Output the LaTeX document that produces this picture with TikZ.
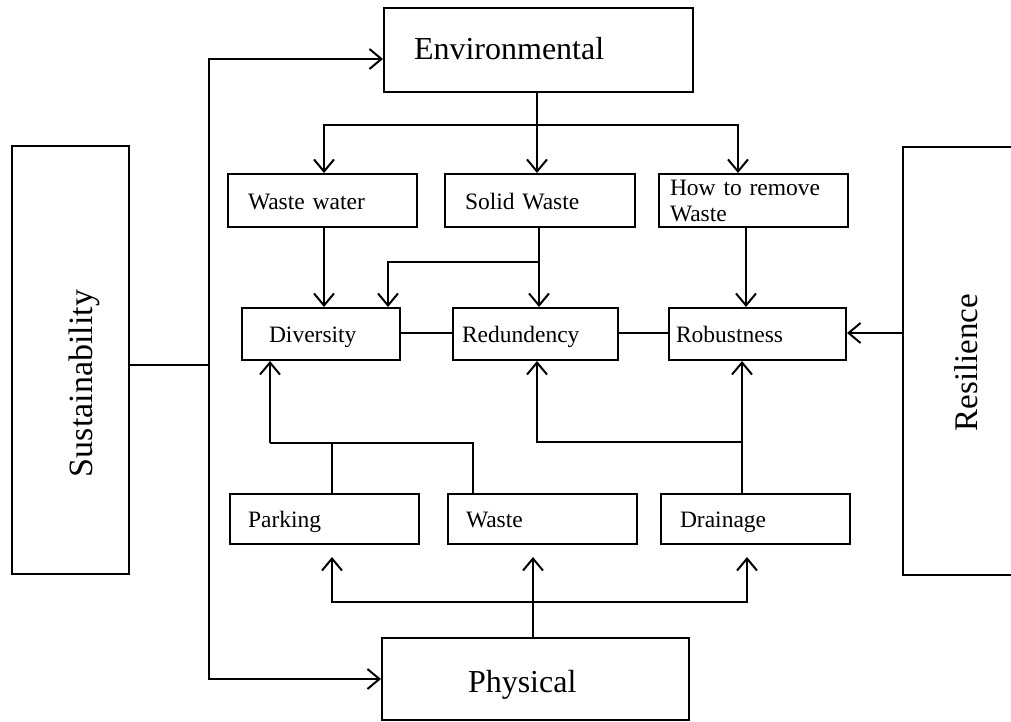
\documentclass[tikz,border=0pt]{standalone}
\usepackage{fontspec}
\setmainfont{Liberation Serif}
\usetikzlibrary{arrows.meta}
\tikzset{
  bx/.style={draw, line width=2pt, inner ysep=0pt, align=left, anchor=north west},
  sm/.style={font=\fontsize{23.5}{26}\selectfont},
  smh/.style={sm, text height=22pt, text depth=5pt},
  lg/.style={font=\fontsize{32}{38}\selectfont},
  ln/.style={line width=2pt},
  tip/.style={ln, -{Straight Barb[length=12pt,width=20pt,line width=2pt]}},
}
\begin{document}
\begin{tikzpicture}[x=1pt,y=-1pt]
\useasboundingbox (0,0) rectangle (1011,721);
% boxes
\node[bx,lg,text height=24pt,text depth=6pt,minimum width=309pt,minimum height=84pt,text width=249pt,inner xsep=30pt] (env) at (383,7) {Environmental};
\node[bx,smh,minimum width=189pt,minimum height=53pt,text width=149pt,inner xsep=20pt] (ww) at (227,173) {Waste water};
\node[bx,smh,minimum width=190pt,minimum height=53pt,text width=150pt,inner xsep=20pt] (sw) at (444,173) {Solid Waste};
\node[bx,sm,minimum width=189pt,minimum height=53pt,text width=167pt,inner xsep=11pt] (hr) at (658,173) {How to remove\\Waste};
\node[bx,smh,minimum width=158pt,minimum height=52pt,text width=104pt,inner xsep=27pt] (div) at (241,307) {Diversity};
\node[bx,smh,minimum width=165pt,minimum height=52pt,text width=147pt,inner xsep=9pt] (red) at (452,307) {Redundency};
\node[bx,smh,minimum width=177pt,minimum height=52pt,text width=163pt,inner xsep=7pt] (rob) at (668,307) {Robustness};
\node[bx,smh,minimum width=189pt,minimum height=50pt,text width=153pt,inner xsep=18pt] (park) at (229,493) {Parking};
\node[bx,smh,minimum width=189pt,minimum height=50pt,text width=153pt,inner xsep=18pt] (wst) at (447,493) {Waste};
\node[bx,smh,minimum width=189pt,minimum height=50pt,text width=151pt,inner xsep=19pt] (drn) at (660,493) {Drainage};
\node[bx,lg,text height=30pt,text depth=4pt,minimum width=307pt,minimum height=82pt,text width=135pt,inner xsep=86pt] (phy) at (381,637) {Physical};
\node[bx,minimum width=117pt,minimum height=428pt,inner sep=0pt] (sust) at (11,145) {};
\node[bx,minimum width=150pt,minimum height=428pt,inner sep=0pt] (res) at (902,146) {};
\node[rotate=90,anchor=base,font=\fontsize{34}{40}\selectfont,inner sep=0pt] (sustlabel) at (92,383.5) {Sustainability};
\node[rotate=90,anchor=base,font=\fontsize{33}{40}\selectfont,inner sep=0pt] (reslabel) at (977,362.5) {Resilience};
% coordinates
\coordinate (sj) at (209,365);
\coordinate (vt) at (209,59);
\coordinate (vb) at (209,679);
\coordinate (ej) at (537,125);
\coordinate (ejl) at (324,125);
\coordinate (ejr) at (738,125);
\coordinate (sj2) at (539,262);
\coordinate (sj3) at (388,262);
\coordinate (hx) at (746,0);
\coordinate (m) at (0,333);
\coordinate (pj) at (332,443);
\coordinate (pl) at (270,443);
\coordinate (pr) at (473,443);
\coordinate (dj) at (742,442);
\coordinate (dl) at (537,442);
\coordinate (pk) at (533,602);
\coordinate (pkl) at (332,602);
\coordinate (pkr) at (747,602);
% sustainability connectors
\draw[ln] (sust.east |- sj) -- (sj);
\draw[tip] (sj) -- (vt) -- (env.west |- vt);
\draw[tip] (sj) -- (vb) -- (phy.west |- vb);
% environmental branches
\draw[ln] (ej |- env.south) -- (ej);
\draw[tip] (ej) -- (ejl) -- (ejl |- ww.north);
\draw[tip] (ej) -- (ejr) -- (ejr |- hr.north);
\draw[tip] (ej) -- (ej |- sw.north);
% middle arrows
\draw[tip] (ejl |- ww.south) -- (ejl |- div.north);
\draw[tip] (sj2 |- sw.south) -- (sj2 |- red.north);
\draw[tip] (sj2) -- (sj3) -- (sj3 |- div.north);
\draw[tip] (hx |- hr.south) -- (hx |- rob.north);
\draw[ln] (div.east |- m) -- (red.west |- m);
\draw[ln] (red.east |- m) -- (rob.west |- m);
\draw[tip] (res.west |- m) -- (rob.east |- m);
% lower connectors
\draw[ln] (pj |- park.north) -- (pj);
\draw[ln] (pr |- wst.north) -- (pr) -- (pl);
\draw[tip] (pl) -- (pl |- div.south);
\draw[tip] (dj |- drn.north) -- (dj |- rob.south);
\draw[tip] (dj) -- (dl) -- (dl |- red.south);
% physical connectors
\draw[tip,shorten >=12pt] (pk |- phy.north) -- (pk |- wst.south);
\draw[tip,shorten >=12pt] (pk) -- (pkl) -- (pkl |- park.south);
\draw[tip,shorten >=12pt] (pk) -- (pkr) -- (pkr |- drn.south);
\end{tikzpicture}
\end{document}
